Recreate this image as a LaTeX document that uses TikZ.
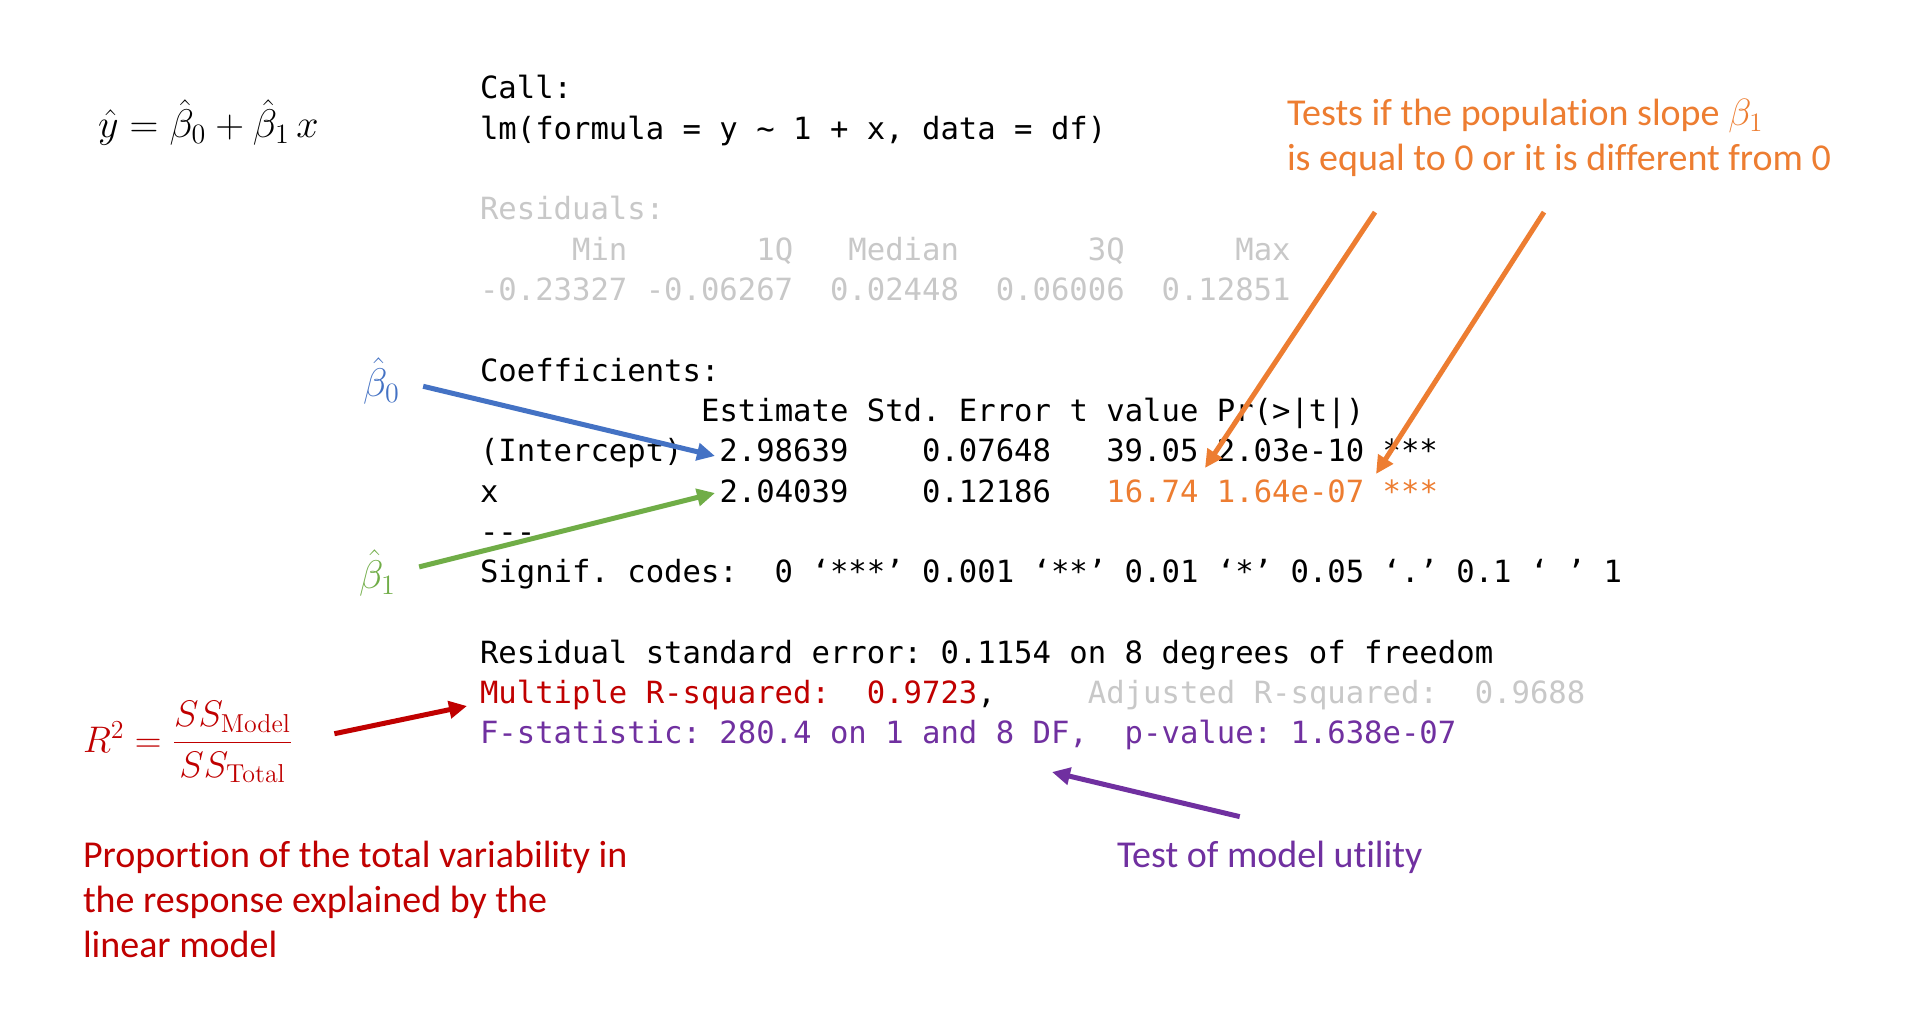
\RequirePackage{fix-cm}
\documentclass[tikz,border=0pt]{standalone}
\usepackage{amsmath}
\usepackage[no-math]{fontspec}
\setmainfont{Carlito}[Ligatures={TeX,NoCommon}]
\setmonofont{DejaVu Sans Mono}
\usetikzlibrary{chains,positioning,arrows.meta,calc}

\definecolor{rblue}{HTML}{4472C4}
\definecolor{rgreen}{HTML}{70AD47}
\definecolor{rorange}{HTML}{ED7D31}
\definecolor{rred}{HTML}{C00000}
\definecolor{rpurple}{HTML}{7030A0}
\definecolor{rgray}{HTML}{C8C8C8}

\begin{document}
\begin{tikzpicture}[
        x=0.5pt, y=-0.5pt,
        start chain = going below, node distance = 0pt,
        code/.style={on chain, inner sep=0pt, outer sep=0pt, text width=650pt, align=flush left,
                     text height=14pt, text depth=6.15pt, font=\ttfamily\fontsize{15.3pt}{20.15pt}\selectfont},
        note/.style={inner sep=0pt, outer sep=0pt, align=left, font=\fontsize{19pt}{22.5pt}\selectfont},
        sym/.style={inner sep=0pt, outer sep=0pt, font=\fontsize{20pt}{24pt}\selectfont},
        arr/.style={line width=2.5pt, -{Triangle[length=9pt, width=8.5pt]}},
        ]
    \fill[white] (0,0) rectangle (1920,1026);
    \node[sym, anchor=base west] (yhat) at (98,138) {$\hat{y} = \hat{\beta}_0 + \hat{\beta}_1\, x$};
    \node[code, anchor=base west] (call) at (480,99) {Call:};
    \node[code] (lmcall) {lm(formula = y \textasciitilde{} 1 + x, data = df)};
    \node[code] (gapa) {};
    \node[code, text=rgray] (resid) {Residuals:};
    \node[code, text=rgray] (residhead) {~~~~~Min~~~~~~~1Q~~~Median~~~~~~~3Q~~~~~~Max};
    \node[code, text=rgray] (residvals) {-0.23327 -0.06267~~0.02448~~0.06006~~0.12851};
    \node[code] (gapb) {};
    \node[code] (coefs) {Coefficients:};
    \node[code] (coefhead) {~~~~~~~~~~~~Estimate Std. Error t value Pr(>|t|)};
    \node[code] (icpt) {(Intercept)~~2.98639~~~~0.07648~~~39.05 2.03e-10 ***};
    \node[code] (slope) {x~~~~~~~~~~~~2.04039~~~~0.12186~~~\textcolor{rorange}{16.74 1.64e-07 ***}};
    \node[code] (dashes) {---};
    \node[code] (signif) {Signif. codes:~~0 ‘***’ 0.001 ‘**’ 0.01 ‘*’ 0.05 ‘.’ 0.1 ‘~’ 1};
    \node[code] (gapc) {};
    \node[code] (rse) {Residual standard error: 0.1154 on 8 degrees of freedom};
    \node[code] (rsqline) {\textcolor{rred}{Multiple R-squared:~~0.9723},~~~~~\textcolor{rgray}{Adjusted R-squared:~~0.9688}};
    \node[code, text=rpurple] (fline) {F-statistic: 280.4 on 1 and 8 DF,~~p-value: 1.638e-07};

    \node[sym, text=rblue, anchor=base west] (b0) at (363,396) {$\hat{\beta}_0$};
    \node[sym, text=rgreen, anchor=base west] (b1) at (359,588) {$\hat{\beta}_1$};
    \node[sym, text=rred, anchor=base west, font=\fontsize{18.5pt}{22pt}\selectfont] (rsq) at (83,752) {$R^2 = \dfrac{SS_{\mathrm{Model}}}{SS_{\mathrm{Total}}}$};
    \node[note, text=rorange, anchor=base west] (tests) at (1287,171) {Tests if the population slope $\beta_1$\\is equal to 0 or it is different from 0};
    \node[note, text=rred, anchor=base west] (prop) at (83,957) {Proportion of the total variability in\\the response explained by the\\linear model};
    \node[note, text=rpurple, anchor=base west] (utility) at (1117,867) {Test of model utility};

    \coordinate (b0tip) at (715,456);
    \coordinate (b1tip) at (715,493);
    \coordinate (rsqtip) at (467,706);
    \coordinate (tvaltip) at (1205,468);
    \coordinate (pvaltip) at (1376,474);
    \coordinate (ftip) at (1052,772);
    \draw[arr, rblue, shorten <=12pt] (b0.east) -- (b0tip);
    \draw[arr, rgreen, shorten <=12pt] (b1.east) -- (b1tip);
    \draw[arr, rred, shorten <=21pt] (rsq.east) -- (rsqtip);
    \draw[arr, rorange] ($(tests.south west)+(88,35)$) -- (tvaltip);
    \draw[arr, rorange] ($(tests.south west)+(257,35)$) -- (pvaltip);
    \draw[arr, rpurple] ($(utility.north)+(-30,-24)$) -- (ftip);
\end{tikzpicture}
\end{document}
